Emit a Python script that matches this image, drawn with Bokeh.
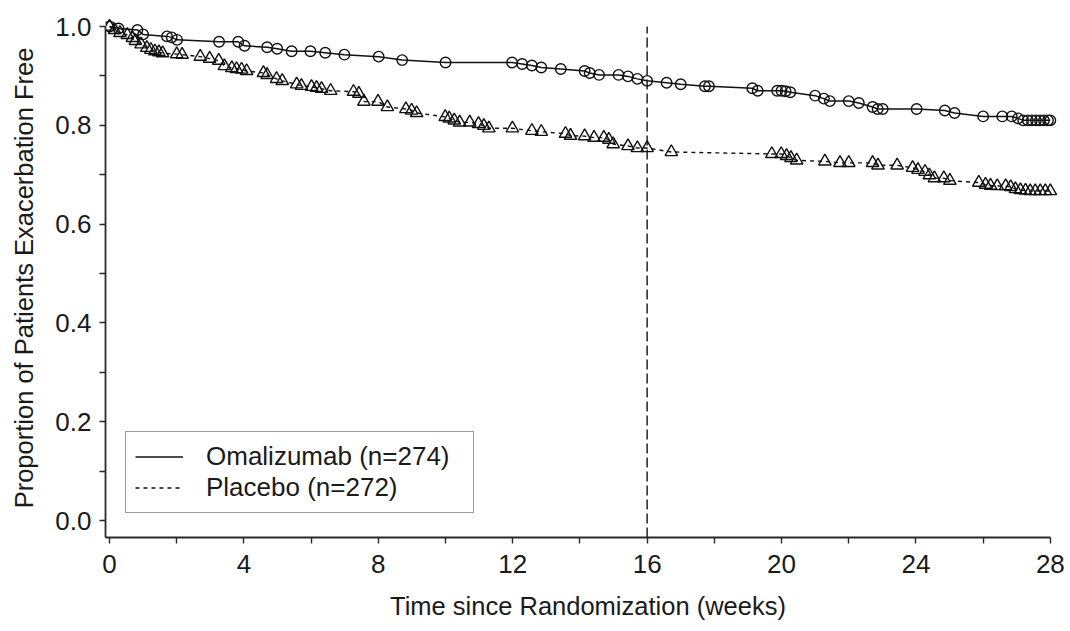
from bokeh.plotting import figure
from bokeh.models import Range1d, FixedTicker, Legend, LegendItem, NumeralTickFormatter
from bokeh.embed import file_html
from bokeh.resources import INLINE

# ---------------- data ----------------
omal_weeks = [0.0, 0.27, 0.83, 1.0, 1.71, 1.85, 2.01, 3.26, 3.83, 4.02, 4.69, 4.99,
              5.42, 5.98, 6.42, 6.99, 8.01, 8.71, 10.0, 11.98, 12.28, 12.57, 12.85,
              13.43, 14.14, 14.29, 14.57, 15.15, 15.43, 15.71, 16.0, 16.58, 17.0,
              17.72, 17.84, 19.13, 19.29, 19.87, 20.0, 20.12, 20.26, 21.0, 21.26,
              21.44, 22.0, 22.3, 22.71, 22.86, 23.01, 24.02, 24.86, 25.15, 26.0,
              26.57, 26.85, 27.04, 27.19, 27.33, 27.45, 27.57, 27.69, 27.81, 27.93, 28.0]
omal_surv = [1.0, 0.996, 0.993, 0.984, 0.980, 0.978, 0.973, 0.969, 0.969, 0.961, 0.958, 0.955,
             0.950, 0.950, 0.947, 0.943, 0.939, 0.932, 0.927, 0.927, 0.924, 0.921, 0.917,
             0.914, 0.910, 0.906, 0.902, 0.902, 0.899, 0.894, 0.890, 0.886, 0.883,
             0.879, 0.879, 0.875, 0.870, 0.870, 0.870, 0.869, 0.867, 0.860, 0.854,
             0.849, 0.849, 0.845, 0.837, 0.833, 0.833, 0.833, 0.830, 0.825, 0.818,
             0.818, 0.818, 0.814, 0.810, 0.810, 0.810, 0.810, 0.810, 0.810, 0.810, 0.810]

plac_weeks = [0.0, 0.15, 0.31, 0.53, 0.68, 0.77, 0.94, 1.11, 1.23, 1.35, 1.47, 1.58,
              2.0, 2.16, 2.70, 2.98, 3.25, 3.42, 3.64, 3.78, 3.93, 4.08, 4.58, 4.69,
              4.97, 5.14, 5.57, 5.71, 6.01, 6.16, 6.31, 6.58, 7.26, 7.42, 7.57, 7.99,
              8.27, 8.82, 8.99, 9.14, 9.99, 10.11, 10.26, 10.42, 10.72, 10.98, 11.14,
              11.29, 11.99, 12.57, 12.85, 13.57, 13.72, 14.14, 14.42, 14.71, 14.86,
              14.99, 15.43, 15.71, 16.0, 16.72, 19.71, 19.99, 20.15, 20.28, 20.45,
              21.29, 21.74, 22.0, 22.71, 22.87, 23.44, 23.90, 24.06, 24.27, 24.40,
              24.55, 24.83, 25.01, 25.87, 26.07, 26.22, 26.42, 26.67, 26.82, 26.96,
              27.11, 27.26, 27.40, 27.55, 27.70, 27.85, 28.0]
plac_surv = [1.0, 0.993, 0.987, 0.983, 0.977, 0.971, 0.964, 0.957, 0.953, 0.950, 0.948, 0.946,
             0.944, 0.943, 0.939, 0.935, 0.931, 0.920, 0.916, 0.914, 0.913, 0.910, 0.906, 0.902,
             0.894, 0.890, 0.883, 0.880, 0.878, 0.876, 0.874, 0.870, 0.868, 0.864, 0.848, 0.848,
             0.837, 0.833, 0.830, 0.825, 0.817, 0.814, 0.810, 0.806, 0.806, 0.803, 0.799,
             0.794, 0.794, 0.789, 0.787, 0.783, 0.779, 0.778, 0.775, 0.775, 0.771,
             0.762, 0.758, 0.754, 0.754, 0.746, 0.742, 0.742, 0.738, 0.734, 0.729,
             0.727, 0.724, 0.724, 0.724, 0.719, 0.719, 0.714, 0.710, 0.706, 0.699,
             0.693, 0.693, 0.688, 0.684, 0.680, 0.678, 0.677, 0.677, 0.675, 0.671,
             0.669, 0.668, 0.667, 0.667, 0.667, 0.667, 0.667]

series_labels = ["Omalizumab (n=274)", "Placebo (n=272)"]
x_ticks = [0, 4, 8, 12, 16, 20, 24, 28]
x_minor_ticks = [2, 6, 10, 14, 18, 22, 26]
y_ticks = [0.0, 0.2, 0.4, 0.6, 0.8, 1.0]
y_minor_ticks = [0.1, 0.3, 0.5, 0.7, 0.9]
ref_week = 16
x_title = "Time since Randomization (weeks)"
y_title = "Proportion of Patients Exacerbation Free"

# ---------------- layout ----------------
X0, X1 = -0.12, 28.60
Y0, Y1 = -0.0344, 1.0162
FONT = "Liberation Sans"
INK = "#1a1a1a"

p = figure(width=1070, height=631, output_backend="svg", toolbar_location=None,
           x_range=Range1d(X0, X1), y_range=Range1d(Y0, Y1),
           min_border_left=105, min_border_right=0, min_border_top=18, min_border_bottom=94)
p.outline_line_color = None
p.grid.visible = False

p.xaxis.bounds = (X0, x_ticks[-1])
p.yaxis.bounds = (Y0, y_ticks[-1])
p.xaxis.ticker = FixedTicker(ticks=x_ticks, minor_ticks=x_minor_ticks)
p.yaxis.ticker = FixedTicker(ticks=y_ticks, minor_ticks=y_minor_ticks)
p.yaxis.formatter = NumeralTickFormatter(format="0.0")
p.xaxis.axis_label = x_title
p.yaxis.axis_label = y_title

for ax in (p.xaxis, p.yaxis):
    ax.axis_line_width = 1.8
    ax.axis_line_color = "#2a2a2a"
    ax.major_tick_line_color = "#2a2a2a"
    ax.minor_tick_line_color = "#2a2a2a"
    ax.major_tick_line_width = 1.4
    ax.minor_tick_line_width = 1.4
    ax.major_tick_out = 6
    ax.major_tick_in = 0
    ax.minor_tick_out = 6
    ax.minor_tick_in = 0
    ax.major_label_text_font = FONT
    ax.major_label_text_font_size = "26px"
    ax.major_label_text_color = INK
    ax.axis_label_text_font = FONT
    ax.axis_label_text_font_size = "25.5px"
    ax.axis_label_text_font_style = "normal"
    ax.axis_label_text_color = INK

p.xaxis.major_label_standoff = 11
p.xaxis.axis_label_standoff = 16
p.yaxis.major_label_standoff = 8
p.yaxis.axis_label_standoff = 14

# reference line at week 16
p.segment(x0=[ref_week], y0=[Y0], x1=[ref_week], y1=[y_ticks[-1]],
          line_color="#222222", line_width=1.5, line_dash="10 4")

l1 = p.line(omal_weeks, omal_surv, line_color="#111111", line_width=1.5)
p.scatter(omal_weeks, omal_surv, marker="circle", size=10.5, fill_color=None,
          line_color="#111111", line_width=1.4)
l2 = p.line(plac_weeks, plac_surv, line_color="#111111", line_width=1.4, line_dash="4 4")
p.scatter(plac_weeks, plac_surv, marker="triangle", size=12.5, fill_color=None,
          line_color="#111111", line_width=1.4)

legend = Legend(items=[LegendItem(label=series_labels[0], renderers=[l1]),
                       LegendItem(label=series_labels[1], renderers=[l2])],
                location=(20, 24), orientation="vertical",
                border_line_color="#333333", border_line_width=1.5,
                padding=9, spacing=-6, margin=0,
                glyph_width=48, glyph_height=27, label_height=27, label_width=258,
                label_standoff=23, label_text_font=FONT, label_text_font_size="26px",
                label_text_color=INK, background_fill_color="white", background_fill_alpha=1)
p.add_layout(legend)

open("out.html", "w").write(file_html(p, INLINE))
